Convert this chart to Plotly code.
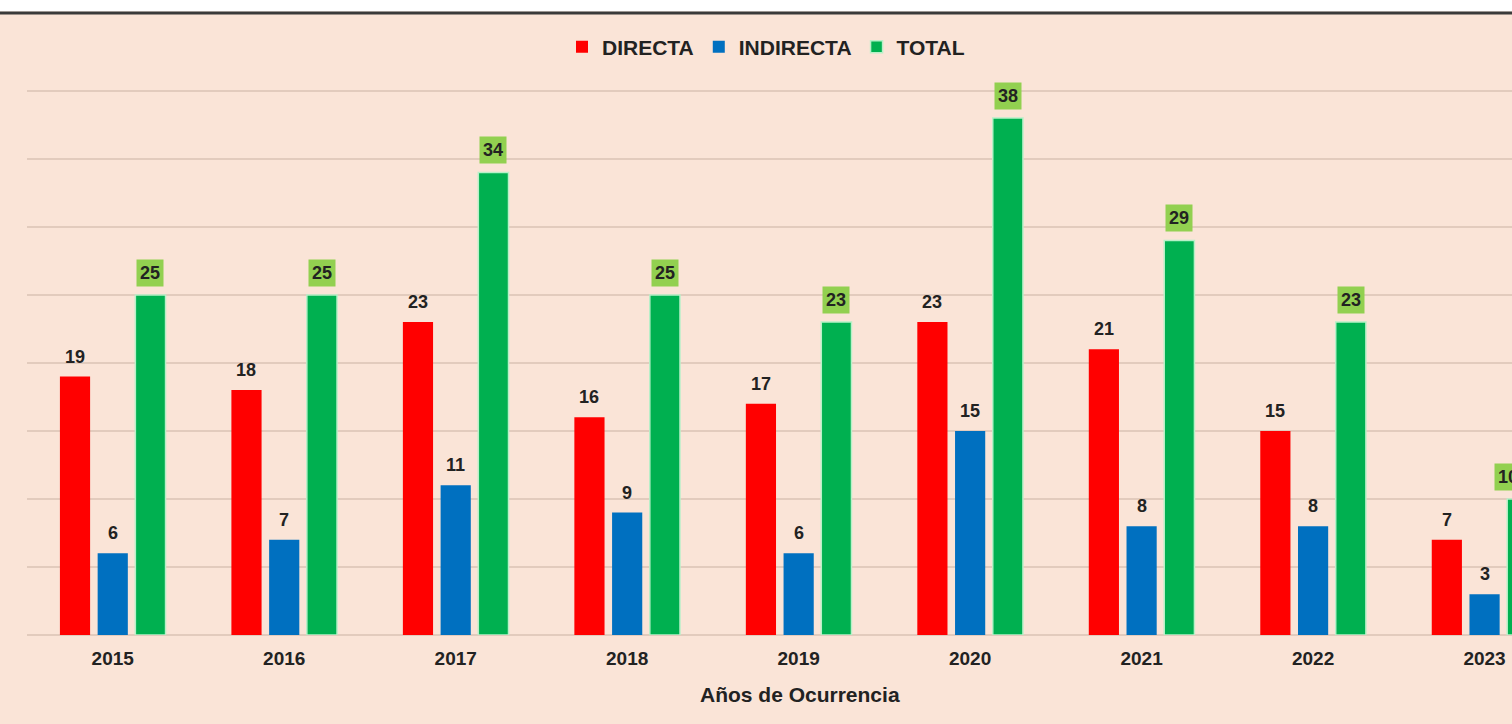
import plotly.graph_objects as go

years = ["2015", "2016", "2017", "2018", "2019", "2020", "2021", "2022", "2023"]
directa = [19, 18, 23, 16, 17, 23, 21, 15, 7]
indirecta = [6, 7, 11, 9, 6, 15, 8, 8, 3]
total = [25, 25, 34, 25, 23, 38, 29, 23, 10]

RED = "#FF0000"
BLUE = "#0070C0"
GREEN = "#00B050"
LABEL_GREEN = "#92D050"
BG = "#FAE4D7"
GRID = "#E2CBBD"
TXT = "#222222"
FONT = "Liberation Sans, Arial, sans-serif"

W, H = 1512, 724
ML, MR, MT, MB = 27, 0, 84, 89
XR = [-0.5, 8.16]

fig = go.Figure()
fig.add_trace(go.Bar(x=years, y=directa, name="<b>DIRECTA</b>", marker=dict(color=RED, line=dict(width=0))))
fig.add_trace(go.Bar(x=years, y=indirecta, name="<b>INDIRECTA</b>", marker=dict(color=BLUE, line=dict(width=0))))
fig.add_trace(go.Bar(x=years, y=total, name="<b>TOTAL</b>",
                     marker=dict(color=GREEN, line=dict(width=1.5, color="#B8F0C8"))))

slot = 0.22
annotations = []
for i in range(len(years)):
    annotations.append(dict(x=i - slot, y=directa[i], xref="x", yref="y", text=f"<b>{directa[i]}</b>",
                            showarrow=False, yanchor="bottom", yshift=8,
                            font=dict(family=FONT, size=18, color=TXT)))
    annotations.append(dict(x=i, y=indirecta[i], xref="x", yref="y", text=f"<b>{indirecta[i]}</b>",
                            showarrow=False, yanchor="bottom", yshift=8,
                            font=dict(family=FONT, size=18, color=TXT)))
    xt = i + slot
    if xt <= XR[1]:
        annotations.append(dict(x=xt, y=total[i], xref="x", yref="y", text=f"<b>{total[i]}</b>",
                                showarrow=False, yanchor="bottom", yshift=8, bgcolor=LABEL_GREEN,
                                borderpad=3, font=dict(family=FONT, size=18, color=TXT)))
    else:
        # label partly beyond the visible axis range: place via paper fraction of the axis
        annotations.append(dict(x=(xt - XR[0]) / (XR[1] - XR[0]), y=total[i], xref="paper", yref="y",
                                text=f"<b>{total[i]}</b>",
                                showarrow=False, yanchor="bottom", yshift=8, bgcolor=LABEL_GREEN,
                                borderpad=3, font=dict(family=FONT, size=18, color=TXT)))

plot_w = W - ML - MR
plot_h = H - MT - MB


def py(p):
    return (H - MB - p) / plot_h


annotations.append(dict(x=(800 - ML) / plot_w, y=py(694), xref="paper", yref="paper",
                        text="<b>Años de Ocurrencia</b>", showarrow=False, yanchor="middle",
                        font=dict(family=FONT, size=21, color=TXT)))

shapes = [
    dict(type="rect", xref="paper", yref="paper", x0=-0.05, x1=1.05, y0=py(11.5), y1=py(-5),
         fillcolor="white", line=dict(width=0), layer="above"),
    dict(type="line", xref="paper", yref="paper", x0=-0.05, x1=1.05, y0=py(13), y1=py(13),
         line=dict(color="#3A3A3A", width=3), layer="above"),
]

fig.update_layout(
    width=W, height=H,
    margin=dict(l=ML, r=MR, t=MT, b=MB, pad=0),
    paper_bgcolor=BG, plot_bgcolor=BG,
    barmode="group", bargap=0.34, bargroupgap=0.2,
    font=dict(family=FONT, color=TXT),
    legend=dict(orientation="h", x=(766 - ML) / plot_w, xanchor="center", y=py(47), yanchor="middle",
                font=dict(family=FONT, size=21, color=TXT), bgcolor="rgba(0,0,0,0)",
                itemwidth=30, traceorder="normal"),
    xaxis=dict(type="category", range=XR, showgrid=False, showline=False, ticks="",
               ticklabelstandoff=10,
               tickfont=dict(family=FONT, size=19, color=TXT, weight="bold")),
    yaxis=dict(range=[0, 40.5], dtick=5, showticklabels=False, gridcolor=GRID, gridwidth=1.5,
               zeroline=True, zerolinecolor=GRID, zerolinewidth=1.5, showline=False),
    annotations=annotations,
    shapes=shapes,
    showlegend=True,
)

fig.write_html("out.html", config={"displayModeBar": False},
               post_script="document.body.style.margin='0';document.body.style.overflow='hidden';")
